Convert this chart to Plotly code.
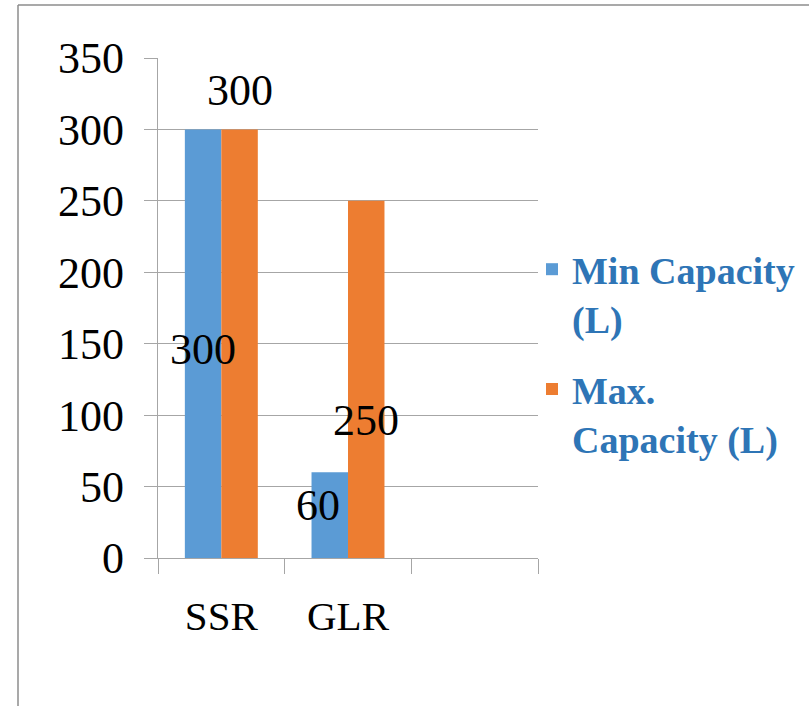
import plotly.graph_objects as go

categories = ["SSR", "GLR"]
all_slots = ["SSR", "GLR", " "]
min_capacity = [300, 60]
max_capacity = [300, 250]
series_names = ["Min Capacity<br>(L)", "Max.<br>Capacity (L)"]
y_ticks = [0, 50, 100, 150, 200, 250, 300, 350]

BLUE = "#5B9BD5"
ORANGE = "#ED7D31"
GRID = "#A6A6A6"
SERIF = "Liberation Serif, Times New Roman, serif"
LABEL_FONT = dict(family=SERIF, size=44, color="black")

BAR_W = 0.288  # width of one bar in category units

fig = go.Figure()
fig.add_trace(go.Bar(
    x=categories, y=min_capacity, name=series_names[0], legendgroup="min",
    marker=dict(color=BLUE, line=dict(width=0)),
    width=BAR_W, offset=-BAR_W, hoverinfo="skip",
))
fig.add_trace(go.Bar(
    x=categories, y=max_capacity, name=series_names[1], legendgroup="max",
    marker=dict(color=ORANGE, line=dict(width=0)),
    width=BAR_W, offset=0, hoverinfo="skip",
))

# data labels (Excel-style, drawn above all bars)
# (series values, bar centre offset, placement, pixel nudges)
label_specs = [
    (min_capacity, -BAR_W / 2, ["inside", "inside"], [(0, -6), (-12, 10)]),
    (max_capacity, BAR_W / 2, ["outside", "inside"], [(0, 0), (0, -41)]),
]
annotations = []
for values, dx, places, nudges in label_specs:
    for i, (v, place, (nx, ny)) in enumerate(zip(values, places, nudges)):
        if place == "inside":
            annotations.append(dict(x=i + dx, y=v / 2, xref="x", yref="y",
                                    text=str(v), showarrow=False,
                                    xanchor="center", yanchor="middle",
                                    xshift=nx, yshift=ny, font=LABEL_FONT))
        else:
            annotations.append(dict(x=i + dx, y=v, xref="x", yref="y",
                                    text=str(v), showarrow=False,
                                    xanchor="center", yanchor="bottom",
                                    xshift=nx, yshift=12 + ny, font=LABEL_FONT))

L, R, T, B = 158, 538, 58, 558
W, H = 809, 706

fig.update_layout(
    width=W, height=H,
    margin=dict(l=L, r=W - R, t=T, b=H - B, pad=0, autoexpand=False),
    paper_bgcolor="white", plot_bgcolor="white",
    barmode="overlay",
    showlegend=True,
    legend=dict(
        x=(532 - L) / (R - L), y=(B - 238) / (B - T),
        xanchor="left", yanchor="top",
        font=dict(family="Liberation Serif, serif", size=38, color="#2E75B6", weight="bold"),
        valign="top", itemwidth=30, tracegroupgap=18,
        bgcolor="rgba(0,0,0,0)",
    ),
    xaxis=dict(
        type="category", categoryorder="array", categoryarray=all_slots,
        range=[-0.5, 2.5], tickson="boundaries", ticks="outside", ticklen=15,
        tickcolor=GRID, tickwidth=1.3,
        showline=True, linecolor=GRID, linewidth=1.3,
        showgrid=False, ticklabelstandoff=22,
        tickfont=dict(family=SERIF, size=41, color="black"),
    ),
    yaxis=dict(
        range=[0, 350], tickvals=y_ticks, ticks="outside", ticklen=13,
        tickcolor=GRID, tickwidth=1.3,
        showline=True, linecolor=GRID, linewidth=1.3,
        showgrid=True, gridcolor=GRID, gridwidth=1.3, zeroline=False,
        ticklabelstandoff=11,
        tickfont=dict(family=SERIF, size=44, color="black"),
    ),
    annotations=annotations,
    shapes=[
        dict(type="line", xref="paper", yref="paper",
             x0=(18 - L) / (R - L), x1=(W - L) / (R - L),
             y0=(B - 5) / (B - T), y1=(B - 5) / (B - T),
             line=dict(color="#8C8C8C", width=1.5)),
        dict(type="line", xref="paper", yref="paper",
             x0=(18 - L) / (R - L), x1=(18 - L) / (R - L),
             y0=(B - 5) / (B - T), y1=(B - H) / (B - T),
             line=dict(color="#8C8C8C", width=1.5)),
    ],
)

fig.write_html("out.html", config={"displayModeBar": False},
               post_script="document.body.style.margin='0';")
